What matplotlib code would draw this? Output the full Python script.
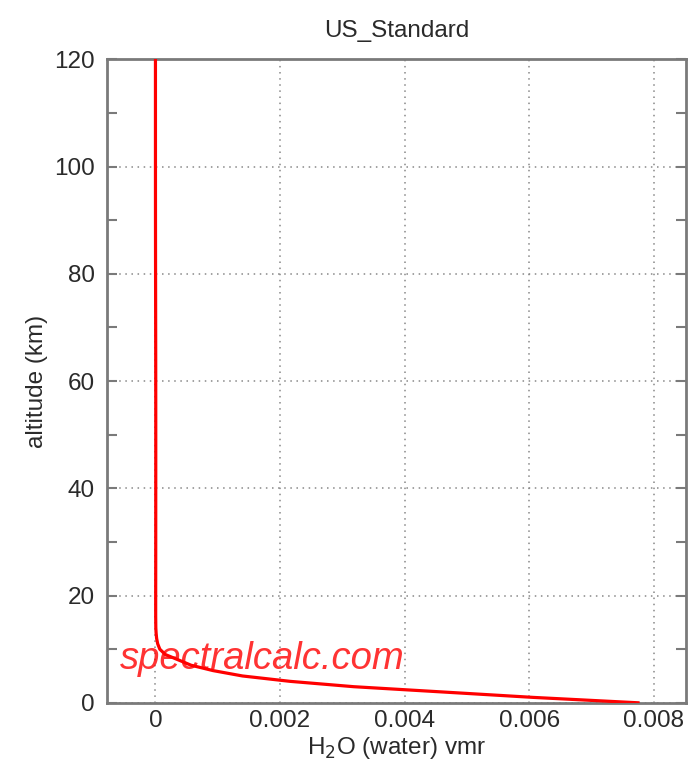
import matplotlib
matplotlib.use("Agg")
import matplotlib.pyplot as plt
from matplotlib.ticker import MultipleLocator

# US standard atmosphere water vapour profile
altitude_km = [0, 1, 2, 3, 4, 5, 6, 7, 8, 9, 10, 11, 12, 13, 14, 15, 16, 17, 18,
               19, 20, 21, 22, 23, 24, 25, 27.5, 30, 32.5, 35, 37.5, 40, 42.5,
               45, 47.5, 50, 55, 60, 65, 70, 75, 80, 85, 90, 95, 100, 105, 110,
               115, 120]
h2o_ppmv = [7745, 6071, 4631, 3182, 2158, 1397, 925.4, 572.8, 366.7, 158.3,
            69.96, 36.13, 19.06, 10.85, 5.927, 5.0, 3.95, 3.85, 3.825, 3.85,
            3.9, 3.975, 4.065, 4.2, 4.3, 4.425, 4.575, 4.725, 4.825, 4.9, 4.95,
            5.025, 5.15, 5.225, 5.25, 5.225, 5.1, 4.75, 4.2, 3.5, 2.825, 2.05,
            1.33, 0.85, 0.54, 0.4, 0.34, 0.28, 0.24, 0.2]
vmr = [v * 1e-6 for v in h2o_ppmv]

x_ticks = [0, 0.002, 0.004, 0.006, 0.008]
x_ticklabels = ["0", "0.002", "0.004", "0.006", "0.008"]
y_ticks = [0, 20, 40, 60, 80, 100, 120]

plt.rcParams["font.family"] = ["Liberation Sans", "DejaVu Sans"]
grey = "#7a7a7a"
txt = "#2a2a2a"

fig = plt.figure(figsize=(6.96, 7.8), dpi=100)
ax = fig.add_axes([0.154, 0.099, 0.832, 0.825])

ax.plot(vmr, altitude_km, color="red", lw=2.3, zorder=3)

# axis limits padded by 10% of the data range
span = max(vmr) - 0
ax.set_xlim(-0.1 * span, max(vmr) + 0.1 * span)
ax.set_ylim(0, 120)

ax.set_xticks(x_ticks)
ax.set_xticklabels(x_ticklabels)
ax.set_yticks(y_ticks)
ax.yaxis.set_minor_locator(MultipleLocator(10))

ax.grid(True, which="major", linestyle=(0, (1, 3)), color="#888888", lw=1.1)
ax.tick_params(which="both", direction="in", top=True, right=True,
               colors=grey, labelcolor=txt, labelsize=17.5, width=1.5)
ax.tick_params(which="major", length=7)
ax.tick_params(which="minor", length=7)
ax.tick_params(axis="y", which="major", pad=9)
ax.tick_params(axis="x", which="major", length=0, pad=5)

for s in ax.spines.values():
    s.set_color(grey)
    s.set_linewidth(2)

ax.set_title("US_Standard", fontsize=17.5, color=txt, pad=16)
ax.set_xlabel("H$_2$O (water) vmr", fontsize=17.5, color=txt, labelpad=2)
ax.set_ylabel("altitude (km)", fontsize=17.5, color=txt, labelpad=4)

ax.text(0.022, 0.052, "spectralcalc.com", transform=ax.transAxes,
        fontsize=27.5, style="italic", color="red", alpha=0.8,
        ha="left", va="baseline", zorder=4)

fig.savefig("out.png", dpi=100, facecolor="white")
